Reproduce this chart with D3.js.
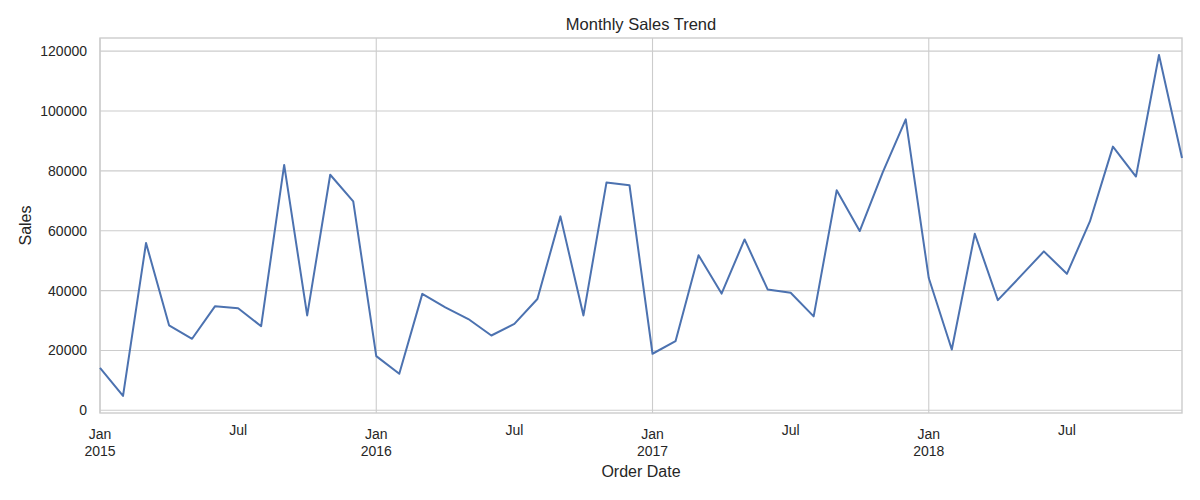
<!DOCTYPE html>
<html>
<head>
<meta charset="utf-8">
<script src="https://cdn.jsdelivr.net/npm/d3@7"></script>
<style>
  body { margin: 0; background: #fff; }
  svg text { font-family: "Liberation Sans", Arial, sans-serif; fill: #262626; }
</style>
</head>
<body>
<svg id="vis" width="1200" height="500"></svg>
<script>
// monthly sales, Jan 2015 .. Dec 2018
const months = d3.range(48).map(i => new Date(2015, i, 1));
const sales = [
    14200, 4800, 55900, 28400, 23900, 34800, 34100, 28100, 82000, 31700, 78700, 69800,
    18100, 12200, 38900, 34400, 30500, 25000, 28900, 37200, 64800, 31700, 76100, 75200,
    18900, 23100, 51800, 39000, 57100, 40400, 39300, 31400, 73500, 59900, 79500, 97200,
    44200, 20300, 59000, 36800, 44900, 53100, 45600, 63100, 88100, 78100, 118700, 84300
];
const yTicks = [0, 20000, 40000, 60000, 80000, 100000, 120000];
const majorTicks = [0, 12, 24, 36];
const minorTicks = [6, 18, 30, 42];
const monthNames = ["Jan", "Feb", "Mar", "Apr", "May", "Jun", "Jul", "Aug", "Sep", "Oct", "Nov", "Dec"];

const margin = {top: 38, right: 18, bottom: 87, left: 100};
const width = 1200 - margin.left - margin.right;
const height = 500 - margin.top - margin.bottom;

const svg = d3.select("svg#vis");
const g = svg.append("g").attr("transform", `translate(${margin.left},${margin.top})`);

const x = d3.scaleLinear().domain([0, months.length - 1]).range([0, width]);

// matplotlib style 5% margins on y
const ymin = d3.min(sales), ymax = d3.max(sales);
const pad = (ymax - ymin) * 0.05;
const y = d3.scaleLinear().domain([ymin - pad, ymax + pad]).range([height, 0]);

// grid
g.append("g")
    .selectAll("line.hgrid")
    .data(yTicks)
    .enter()
    .append("line")
    .attr("x1", 0).attr("x2", width)
    .attr("y1", d => y(d)).attr("y2", d => y(d))
    .attr("stroke", "#cccccc").attr("stroke-width", 1.1);

g.append("g")
    .selectAll("line.vgrid")
    .data(majorTicks)
    .enter()
    .append("line")
    .attr("x1", d => x(d)).attr("x2", d => x(d))
    .attr("y1", 0).attr("y2", height)
    .attr("stroke", "#cccccc").attr("stroke-width", 1.1);

// y axis
const yAxis = d3.axisLeft(y).tickValues(yTicks).tickSize(0).tickPadding(13).tickFormat(d3.format("d"));
g.append("g").call(yAxis)
    .call(a => a.select(".domain").remove())
    .selectAll("text")
    .style("font-size", "14px")
    .attr("fill", "#262626");

// x labels
const xl = g.append("g").attr("transform", `translate(0,${height})`);
majorTicks.forEach(i => {
    const t = xl.append("text")
        .attr("x", x(i)).attr("y", 26)
        .attr("text-anchor", "middle")
        .style("font-size", "14px");
    t.append("tspan").attr("x", x(i)).text(monthNames[months[i].getMonth()]);
    t.append("tspan").attr("x", x(i)).attr("dy", 17).text(months[i].getFullYear());
});
minorTicks.forEach(i => {
    xl.append("text")
        .attr("x", x(i)).attr("y", 22)
        .attr("text-anchor", "middle")
        .style("font-size", "14px")
        .text(monthNames[months[i].getMonth()]);
});

// frame
g.append("rect")
    .attr("width", width).attr("height", height)
    .attr("fill", "none")
    .attr("stroke", "#cccccc").attr("stroke-width", 1.4);

// line
const line = d3.line()
    .x((d, i) => x(i))
    .y(d => y(d));

g.append("path")
    .datum(sales)
    .attr("fill", "none")
    .attr("stroke", "#4c72b0")
    .attr("stroke-width", 2)
    .attr("stroke-linejoin", "round")
    .attr("d", line);

// titles
svg.append("text")
    .attr("x", margin.left + width / 2).attr("y", 30)
    .attr("text-anchor", "middle")
    .style("font-size", "16.5px")
    .text("Monthly Sales Trend");

svg.append("text")
    .attr("x", margin.left + width / 2).attr("y", 477)
    .attr("text-anchor", "middle")
    .style("font-size", "16px")
    .text("Order Date");

svg.append("text")
    .attr("transform", `translate(31,${margin.top + height / 2}) rotate(-90)`)
    .attr("text-anchor", "middle")
    .style("font-size", "16px")
    .text("Sales");
</script>
</body>
</html>
